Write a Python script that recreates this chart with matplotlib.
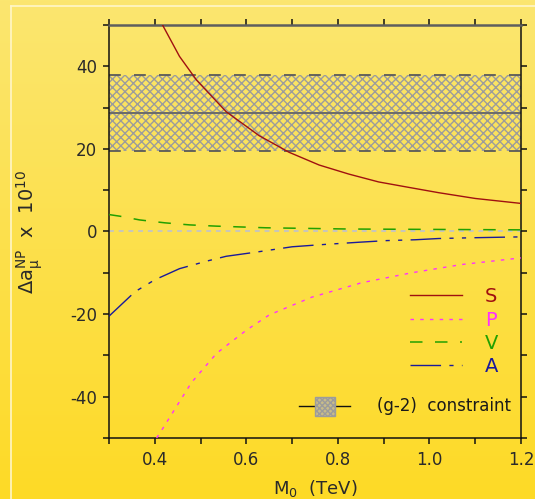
import numpy as np
import matplotlib
matplotlib.use("Agg")
import matplotlib.pyplot as plt
from matplotlib.ticker import MultipleLocator, FormatStrFormatter
from matplotlib.lines import Line2D
from matplotlib.patches import Rectangle

plt.rcParams['font.family'] = ['DejaVu Sans']
plt.rcParams['axes.unicode_minus'] = False
plt.rcParams['mathtext.default'] = 'regular'
plt.rcParams['lines.scale_dashes'] = False
plt.rcParams['hatch.linewidth'] = 1.0

# values (M0 in TeV, delta a_mu x 1e10)
s_x = [0.416, 0.454, 0.491, 0.556, 0.607, 0.628, 0.672, 0.693, 0.759, 0.824, 0.889, 0.954, 1.02, 1.10, 1.20]
s_y = [50.2, 42.4, 36.7, 29.0, 24.9, 23.2, 20.5, 19.2, 16.1, 13.9, 12.0, 10.7, 9.4, 8.0, 6.8]

p_x = [0.404, 0.418, 0.48, 0.535, 0.60, 0.65, 0.743, 0.852, 0.961, 1.07, 1.183, 1.20]
p_y = [-50.0, -47.6, -36.6, -29.5, -23.9, -20.2, -15.9, -12.4, -10.0, -8.0, -6.6, -6.4]

v_x = [0.30, 0.324, 0.367, 0.422, 0.476, 0.534, 0.588, 0.643, 0.824, 1.02, 1.20]
v_y = [4.1, 3.7, 2.8, 2.1, 1.6, 1.3, 1.1, 0.9, 0.6, 0.5, 0.4]

a_x = [0.30, 0.349, 0.364, 0.40, 0.454, 0.48, 0.516, 0.556, 0.621, 0.70, 0.762, 0.846, 0.907, 0.969, 1.02, 1.10, 1.20]
a_y = [-20.5, -15.4, -14.1, -11.7, -9.0, -8.2, -7.1, -6.0, -5.0, -3.7, -3.2, -2.6, -2.2, -2.0, -1.7, -1.5, -1.3]

# (g-2) band
g2_lo, g2_mid, g2_hi = 19.6, 28.7, 37.8
m_range = [0.3, 1.2]

fig = plt.figure(figsize=(5.35, 4.99), dpi=100)

# yellow gradient background
bg = fig.add_axes([0, 0, 1, 1], zorder=-10)
top = np.array([251, 230, 112]) / 255
bot = np.array([254, 218, 38]) / 255
t = np.linspace(0, 1, 256)[:, None]
grad = top[None, None, :] * (1 - t[:, :, None]) + bot[None, None, :] * t[:, :, None]
bg.imshow(np.repeat(grad, 2, axis=1), aspect='auto', extent=[0, 1, 0, 1])
bg.axis('off')
fig.add_artist(Line2D([11 / 535, 11 / 535], [0, 1 - 6 / 499], color='#fff6c8', lw=1.2))
fig.add_artist(Line2D([11 / 535, 1], [1 - 6 / 499, 1 - 6 / 499], color='#fff6c8', lw=1.2))

ax = fig.add_axes([109 / 535, 1 - 438 / 499, 412 / 535, 413 / 499])
ax.set_facecolor('none')

# constraint band
ax.fill_between(m_range, g2_lo, g2_hi, facecolor='none', edgecolor='#9c9c9c', lw=0, hatch='xxxx', zorder=1)
ax.plot(m_range, [g2_lo, g2_lo], color='#5a5a5a', lw=1.3, dashes=(8.5, 9.5), zorder=2)
ax.plot(m_range, [g2_hi, g2_hi], color='#5a5a5a', lw=1.3, dashes=(8.5, 9.5), zorder=2)
ax.plot(m_range, [g2_mid, g2_mid], color='#6a6a6a', lw=1.4, zorder=2)

# zero reference
ax.axhline(0, color='#c4c4c4', lw=1.3, dashes=(3.5, 3.5), zorder=2)

ax.plot(s_x, s_y, color='#a01010', lw=1.0, label='S', zorder=3)
ax.plot(p_x, p_y, color='#ff30ff', lw=1.0, dashes=(2.5, 4.5), label='P', zorder=3)
ax.plot(v_x, v_y, color='#22a000', lw=1.1, dashes=(9, 9), label='V', zorder=3)
ax.plot(a_x, a_y, color='#1a1a9a', lw=1.0, dashes=(22, 6, 3, 6, 3, 6), label='A', zorder=3)

ax.set_xlim(0.3, 1.2)
ax.set_ylim(-50, 50)
ax.xaxis.set_major_locator(MultipleLocator(0.2))
ax.xaxis.set_minor_locator(MultipleLocator(0.1))
ax.xaxis.set_major_formatter(FormatStrFormatter('%.1f'))
ax.yaxis.set_major_locator(MultipleLocator(20))
ax.yaxis.set_minor_locator(MultipleLocator(10))
ax.tick_params(which='both', direction='out', top=True, right=True, length=4.5, width=1.1, color='#111')
ax.tick_params(which='major', labelsize=12, labelcolor='#2a2a2a')
ax.tick_params(axis='y', pad=4)
ax.tick_params(axis='x', pad=5)
for side in ['left', 'bottom', 'right']:
    ax.spines[side].set_color('#111')
    ax.spines[side].set_linewidth(1.1)
ax.spines['top'].set_color('#5e5e5e')
ax.spines['top'].set_linewidth(1.8)

leg = ax.legend(loc='upper left', bbox_to_anchor=(0.731, 0.365), frameon=False, fontsize=14,
                handlelength=2.68, handletextpad=1.15, labelspacing=0.22, borderpad=0,
                borderaxespad=0, labelcolor='linecolor')

# (g-2) constraint key
ax.plot([0.461, 0.585], [0.0775, 0.0775], color='#111', lw=1.0, transform=ax.transAxes)
ax.add_patch(Rectangle((0.500, 0.053), 0.049, 0.046, transform=ax.transAxes,
                       facecolor='#c8bc8a', edgecolor='#9c9c9c', hatch='xxxxxx', lw=1.0, zorder=4))
ax.text(0.650, 0.0775, '(g-2)  constraint', transform=ax.transAxes, fontsize=12,
        color='#1a1a1a', va='center', ha='left')

ax.set_xlabel('M$_0$  (TeV)', fontsize=13, color='#2a2a2a', labelpad=6)
fig.text(30 / 535, 1 - 232 / 499, r'$\Delta a_{\mu}^{NP}$  x  10$^{10}$', rotation=90,
         ha='center', va='center', fontsize=14, color='#2a2a2a')

fig.savefig('out.png', dpi=100)
